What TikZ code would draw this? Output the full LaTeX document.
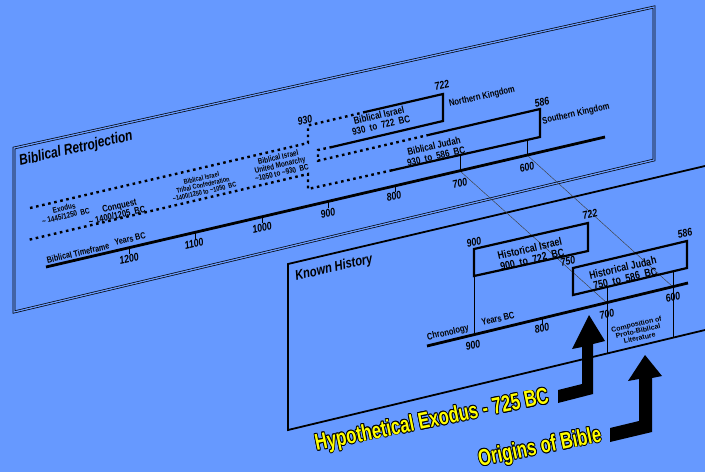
\documentclass[tikz,border=0pt]{standalone}
\usepackage{fontspec}
\setmainfont{Liberation Sans}
\definecolor{bgblue}{HTML}{6699FF}
\definecolor{exyellow}{HTML}{FFFF00}
\newcommand{\ytext}[1]{\leavevmode
  \rlap{\kern-1.1pt\color{black}#1}\rlap{\kern1.1pt\color{black}#1}%
  \rlap{\raisebox{.9pt}{\color{black}#1}}\rlap{\raisebox{-.9pt}{\color{black}#1}}%
  \rlap{\kern-.8pt\raisebox{.7pt}{\color{black}#1}}\rlap{\kern.8pt\raisebox{-.7pt}{\color{black}#1}}%
  \rlap{\kern.8pt\raisebox{.7pt}{\color{black}#1}}\rlap{\kern-.8pt\raisebox{-.7pt}{\color{black}#1}}%
  #1}

\begin{document}
\begin{tikzpicture}[x=1pt,y=-1pt,
  plane/.style={draw=black,double=bgblue,double distance=1.3pt,line width=.7pt},
  front/.style={line width=1.8pt},
  box/.style={line width=2.2pt,line join=miter},
  dots/.style={line width=2.4pt,dash pattern=on 2.6pt off 3.6pt},
  axis/.style={line width=2.8pt},
  tick/.style={line width=.9pt},
  proj/.style={line width=.45pt,black!75},
  t/.style={rotate=13,xscale=.8,inner sep=0pt,align=center},
  f/.style={font=\bfseries\fontsize{#1}{#1}\selectfont},
  fi/.style={font=\bfseries\itshape\fontsize{#1}{#1}\selectfont},
  yel/.style={rotate=11.5,xscale=.73,inner sep=0pt,text=exyellow,
    font=\bfseries\fontsize{23}{23}\selectfont}]
  \fill[bgblue] (0,0) rectangle (705,472);
  \useasboundingbox (0,0) rectangle (705,472);

  % the two planes
  \draw[plane] (14,148) -- (654,7) -- (654,160) -- (14,312) -- cycle;
  \draw[front] (705,166) -- (288,264) -- (288,430) -- (705,330);

  % projections from one timeline to the other
  \draw[proj] (460,171) -- (607,303);
  \draw[proj] (527,155) -- (673,287);

  % biblical retrojection
  \draw[dots] (30,208) -- (308,143) -- (308,125.5) -- (365,112);
  \draw[box] (365,112) -- (443,94) -- (443,121) -- (332,147);
  \draw[dots] (332,147) -- (318,150) -- (318,160.7) -- (427,135.3);
  \draw[box] (427,135.3) -- (540,109) -- (540,137) -- (392,170.3);
  \draw[dots] (392,170.3) -- (308,189) -- (308,174) -- (28,240);
  \draw[axis] (46,267) -- (605,137);
  \draw[tick] (129,247.7) -- (129,254) (195,232.3) -- (195,238.5)
    (262,216.8) -- (262,223) (328,201.4) -- (328,207.5) (395,185.8) -- (395,192)
    (460,155) -- (460,171) (527,140) -- (527,155);

  \node[t,fi=15] (retro) at (76,149) {Biblical Retrojection};
  \node[t,f=8] (exodus) at (65,212) {Exodus\\\textasciitilde{} 1445/1250\ \ BC};
  \node[t,f=9.5] (conquest) at (116,211) {\hspace{1.2em}Conquest\\\textasciitilde{} 1400/1205\ \ BC};
  \node[t,f=7] (tribal) at (203,185) {Biblical Israel\\Tribal Confederation\\\textasciitilde1400/1250 to \textasciitilde1050\ \ BC};
  \node[t,f=8] (monarchy) at (280,165) {Biblical Israel\\United Monarchy\\\textasciitilde1050 to \textasciitilde930\ \ BC};
  \node[t,fi=11] (b930) at (305,120) {930};
  \node[t,f=10] (bisrael) at (380,120) {Biblical Israel\\930\ \ to\ \ 722\ \ BC};
  \node[t,fi=11] (b722) at (442,85) {722};
  \node[t,f=9.5] (north) at (482,97) {Northern Kingdom};
  \node[t,f=10] (bjudah) at (435,151) {Biblical Judah\\930\ \ to\ \ 586\ \ BC};
  \node[t,fi=11] (b586) at (542,102) {586};
  \node[t,f=9.5] (south) at (576,114) {Southern Kingdom};
  \node[t,f=9] (btime) at (78,253) {Biblical Timeframe};
  \node[t,f=9] (byears) at (130,239) {Years BC};
  \node[t,fi=11] (a1200) at (129,259) {1200};
  \node[t,fi=11] (a1100) at (194,244) {1100};
  \node[t,fi=11] (a1000) at (262,228) {1000};
  \node[t,fi=11] (a900) at (328,213) {900};
  \node[t,fi=11] (a800) at (394,196) {800};
  \node[t,fi=11] (a700) at (460,183) {700};
  \node[t,fi=11] (a600) at (527,167) {600};

  % known history
  \draw[box] (474,249) -- (588,223) -- (588,251) -- (474,276) -- cycle;
  \draw[box] (573,268) -- (687,241) -- (687,268) -- (573,295) -- cycle;
  \draw[axis] (427,346) -- (688,283);
  \draw[tick] (474,276) -- (474,335) (542,318.2) -- (542,324)
    (607,287) -- (607,353.4) (673,271.3) -- (673,337.6);

  \node[t,fi=14] (known) at (334,268) {Known History};
  \node[t,fi=11] (h900) at (474,242) {900};
  \node[t,f=11] (hisrael) at (531,254) {Historical Israel\\900\ \ to\ \ 722\ \ BC};
  \node[t,fi=11] (h722) at (590,214) {722};
  \node[t,fi=11] (h750) at (568,261) {750};
  \node[t,f=11] (hjudah) at (624,273) {Historical Judah\\750\ \ to\ \ 586\ \ BC};
  \node[t,fi=11] (h586) at (685,233) {586};
  \node[t,f=9.5] (chron) at (448,333) {Chronology};
  \node[t,f=9.5] (hyears) at (498,319) {Years BC};
  \node[t,fi=11] (c900) at (473,345) {900};
  \node[t,fi=11] (c800) at (542,328) {800};
  \node[t,fi=11] (c700) at (607,314) {700};
  \node[t,fi=11] (c600) at (673,297) {600};
  \node[t,f=7,xscale=1.25] (compo) at (638,331) {Composition of\\Proto-Biblical\\Literature};

  % arrows
  \fill (558,390) -- (582,384) -- (582,347) -- (572,349) -- (589,315) -- (605,341)
    -- (593,344) -- (593,394) -- (558,403) -- cycle;
  \fill (610,428) -- (639,421) -- (639,379) -- (628,381) -- (645,355) -- (662,376)
    -- (652,378) -- (652,432) -- (610,442) -- cycle;

  \node[yel] (hexodus) at (432,421) {\ytext{Hypothetical Exodus - 725 BC}};
  \node[yel] (origins) at (540,448) {\ytext{Origins of Bible}};
\end{tikzpicture}
\end{document}
